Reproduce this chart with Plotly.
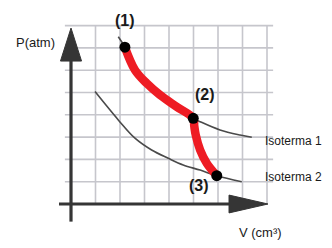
import plotly.graph_objects as go

# Data (grid units: V along x, P along y)
iso1_V = [1.93, 2.20, 2.61, 3.09, 3.63, 4.31, 4.99, 5.27, 6.08, 6.90, 7.38]
iso1_P = [7.50, 7.03, 6.01, 5.41, 4.89, 4.36, 3.84, 3.69, 3.32, 3.09, 2.99]

iso2_V = [0.98, 1.93, 2.61, 3.29, 3.97, 4.58, 5.27, 5.95, 6.97]
iso2_P = [5.04, 3.77, 2.95, 2.42, 2.05, 1.75, 1.52, 1.27, 1.00]

proc_V = [2.20, 2.61, 3.09, 3.63, 4.31, 4.99, 5.03, 5.09, 5.27, 5.54, 5.95]
proc_P = [7.03, 6.01, 5.41, 4.89, 4.36, 3.84, 3.50, 3.10, 2.42, 1.83, 1.27]

state_V = [2.20, 4.99, 5.95]
state_P = [7.03, 3.84, 1.27]
state_labels = ["(1)", "(2)", "(3)"]
label_V = [2.22, 5.47, 5.24]
label_P = [8.25, 4.89, 0.81]

grid_V = [1, 2, 3, 4, 5, 6, 7, 8]
grid_P = [1, 2, 3, 4, 5, 6, 7, 8]

fig = go.Figure()

grid_col = "#c6c6cc"
shapes = []
for p in grid_P:
    shapes.append(dict(type="line", x0=-0.25, x1=8.25, y0=p, y1=p,
                       line=dict(color=grid_col, width=1.6), layer="below"))
for v in grid_V:
    shapes.append(dict(type="line", x0=v, x1=v, y0=0, y1=8,
                       line=dict(color=grid_col, width=1.6), layer="below"))

axis_col = "#353535"
# axes lines
shapes.append(dict(type="line", x0=0, x1=0, y0=-0.79, y1=6.6,
                   line=dict(color=axis_col, width=3.2)))
shapes.append(dict(type="line", x0=-0.49, x1=6.6, y0=0, y1=0,
                   line=dict(color=axis_col, width=3.2)))
# arrow heads
shapes.append(dict(type="path", path="M -0.43 6.41 L 0 7.89 L 0.43 6.41 Z",
                   fillcolor=axis_col, line=dict(color=axis_col, width=1)))
shapes.append(dict(type="path", path="M 6.45 -0.40 L 8.04 0 L 6.45 0.40 Z",
                   fillcolor=axis_col, line=dict(color=axis_col, width=1)))

fig.add_trace(go.Scatter(x=iso1_V, y=iso1_P, mode="lines",
                         line=dict(color="#4a4a4a", width=1.6, shape="spline"),
                         hoverinfo="skip"))
fig.add_trace(go.Scatter(x=iso2_V, y=iso2_P, mode="lines",
                         line=dict(color="#4a4a4a", width=1.6, shape="spline"),
                         hoverinfo="skip"))
fig.add_trace(go.Scatter(x=proc_V, y=proc_P, mode="lines",
                         line=dict(color="#ee1c24", width=8.5, shape="spline"),
                         hoverinfo="skip"))
fig.add_trace(go.Scatter(x=state_V, y=state_P, mode="markers",
                         marker=dict(color="black", size=11),
                         hoverinfo="skip"))

annotations = []
for t, v, p in zip(state_labels, label_V, label_P):
    annotations.append(dict(x=v, y=p, text="<b>" + t + "</b>", showarrow=False,
                            font=dict(family="Liberation Sans, Arial", size=16, color="#1a1a1a")))
annotations.append(dict(x=-1.43, y=7.26, text="P(atm)", showarrow=False,
                        font=dict(family="Liberation Sans, Arial", size=13, color="#1a1a1a")))
annotations.append(dict(x=7.84, y=2.84, text="Isoterma 1", showarrow=False, xanchor="left",
                        font=dict(family="Liberation Sans, Arial", size=12, color="#1a1a1a")))
annotations.append(dict(x=7.84, y=1.20, text="Isoterma 2", showarrow=False, xanchor="left",
                        font=dict(family="Liberation Sans, Arial", size=12, color="#1a1a1a")))
annotations.append(dict(x=7.73, y=-1.26, text="V (cm³)", showarrow=False,
                        font=dict(family="Liberation Sans, Arial", size=13, color="#1a1a1a")))

fig.update_layout(
    width=332, height=248,
    margin=dict(l=0, r=0, t=0, b=0),
    paper_bgcolor="white", plot_bgcolor="white",
    showlegend=False,
    shapes=shapes, annotations=annotations,
    xaxis=dict(range=[-2.898, 10.653], visible=False, fixedrange=True),
    yaxis=dict(range=[-1.973, 9.148], visible=False, fixedrange=True),
)

fig.write_html("out.html", config={"displayModeBar": False})
